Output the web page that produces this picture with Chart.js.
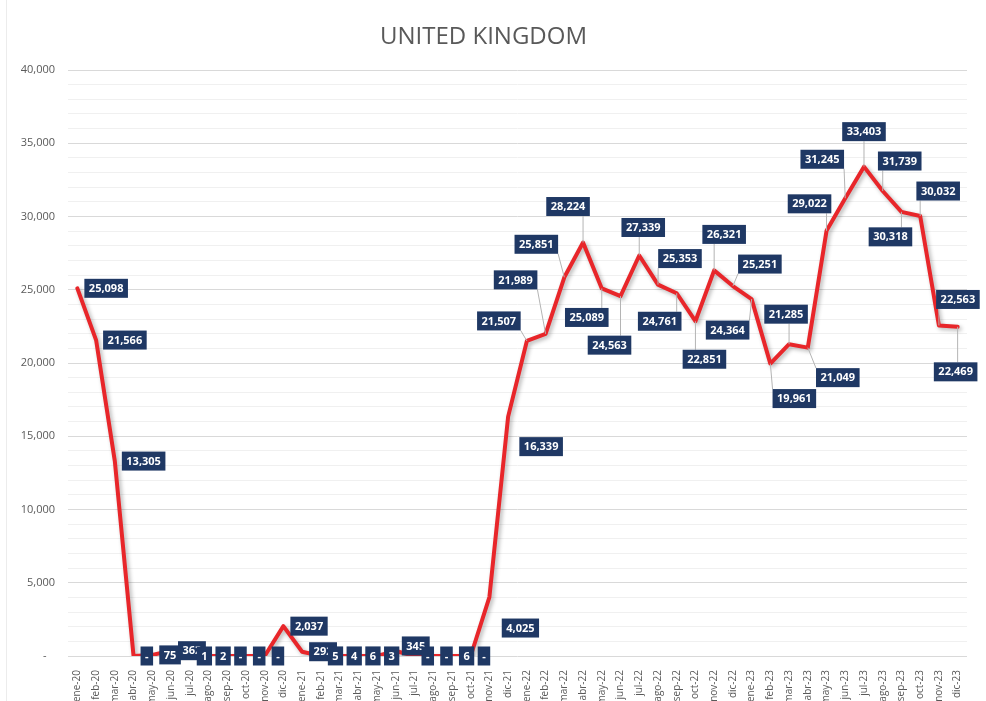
<!DOCTYPE html>
<html>
<head>
<meta charset="utf-8">
<script src="https://cdn.jsdelivr.net/npm/chart.js@4.4.0/dist/chart.umd.min.js"></script>
<style>
  html, body { margin: 0; padding: 0; background: #fff; }
  #wrap { position: relative; width: 986px; height: 701px; }
  #wrap:before { content: ""; position: absolute; left: 6px; top: 0; bottom: 0; border-left: 1px solid #ececec; }
</style>
</head>
<body>
<div id="wrap"><canvas id="grafico" width="986" height="701"></canvas></div>
<script>
// meses (eje x)
const meses = [
  "ene-20","feb-20","mar-20","abr-20","may-20","jun-20","jul-20","ago-20","sep-20","oct-20","nov-20","dic-20",
  "ene-21","feb-21","mar-21","abr-21","may-21","jun-21","jul-21","ago-21","sep-21","oct-21","nov-21","dic-21",
  "ene-22","feb-22","mar-22","abr-22","may-22","jun-22","jul-22","ago-22","sep-22","oct-22","nov-22","dic-22",
  "ene-23","feb-23","mar-23","abr-23","may-23","jun-23","jul-23","ago-23","sep-23","oct-23","nov-23","dic-23"
];

// valores mensuales
const llegadas = [
  25098, 21566, 13305, 0, 75, 362, 1, 2, 0, 0, 0, 2037,
  292, 5, 4, 6, 3, 345, 0, 0, 6, 0, 4025, 16339,
  21507, 21989, 25851, 28224, 25089, 24563, 27339, 25353, 24761, 22851, 26321, 25251,
  24364, 19961, 21285, 21049, 29022, 31245, 33403, 31739, 30318, 30032, 22563, 22469
];

// marcas principales del eje y
const ticksY = [0, 5000, 10000, 15000, 20000, 25000, 30000, 35000, 40000];

// desplazamiento de cada etiqueta respecto a su punto (null = a la derecha)
const desplazamientos = [
  null, null, null, null, null, null, null, null, null, null, null, null,
  null, null, null, null, null, [20, -5], null, null, null, null, [31, 31], [33, 30],
  [-28, -20], [-30, -54], [-28, -33], [-15, -36], [-15, 29], [-11, 49], [4, -28], [22, -26], [-17, 28], [9, 38], [10, -36], [27, -22],
  [-24, 31], [24, 35], [-3, -30], [30, 30], [-17, -27], [-23, -39], [0, -35], [17, -30], [-11, 25], [18, -25], [19, -26], [-2, 45]
];

Chart.defaults.font.family = "'Open Sans', sans-serif";

// sombra suave de la linea
const sombraLinea = {
  id: "sombraLinea",
  beforeDatasetDraw(chart) {
    const c = chart.ctx;
    c.save();
    c.shadowColor = "rgba(0,0,0,0.3)";
    c.shadowBlur = 4;
    c.shadowOffsetX = 2;
    c.shadowOffsetY = 2;
  },
  afterDatasetDraw(chart) {
    chart.ctx.restore();
  }
};

// etiquetas de datos tipo Excel
const etiquetas = {
  id: "etiquetas",
  afterDatasetsDraw(chart) {
    const c = chart.ctx;
    const meta = chart.getDatasetMeta(0);
    const cajas = [];
    c.save();
    c.font = "bold 11px 'Open Sans'";
    meta.data.forEach((p, i) => {
      const v = llegadas[i];
      const txt = v === 0 ? "-" : v.toLocaleString("en-US");
      const w = c.measureText(txt).width + 9;
      const h = 19;
      const d = desplazamientos[i];
      let izq, cy;
      if (d) { izq = p.x + d[0] - w / 2; cy = p.y + d[1]; }
      else { izq = p.x + 7; cy = p.y; }
      cajas.push({ txt, izq, top: cy - h / 2, w, h, px: p.x, py: p.y, guia: i >= 24 });
    });
    // lineas guia
    c.strokeStyle = "#b4b4b4";
    c.lineWidth = 1;
    cajas.forEach((b) => {
      if (!b.guia) return;
      const gx = Math.min(Math.max(b.px, b.izq), b.izq + b.w);
      const gy = Math.min(Math.max(b.py, b.top), b.top + b.h);
      if (Math.hypot(gx - b.px, gy - b.py) < 6) return;
      c.beginPath();
      c.moveTo(b.px, b.py);
      c.lineTo(gx, gy);
      c.stroke();
    });
    // cajas
    c.textAlign = "center";
    c.textBaseline = "middle";
    cajas.forEach((b) => {
      c.fillStyle = "#1f3864";
      c.fillRect(b.izq, b.top, b.w, b.h);
      c.fillStyle = "#ffffff";
      c.fillText(b.txt, b.izq + b.w / 2, b.top + b.h / 2 + 0.5);
    });
    c.restore();
  }
};

new Chart(document.getElementById("grafico"), {
  type: "line",
  data: {
    labels: meses,
    datasets: [{
      data: llegadas,
      borderColor: "#e8262a",
      borderWidth: 4,
      pointRadius: 0,
      tension: 0,
      borderJoinStyle: "round",
      borderCapStyle: "round",
      fill: false
    }]
  },
  options: {
    responsive: false,
    animation: false,
    layout: { padding: { left: 0, right: 19, top: 0, bottom: 0 } },
    plugins: {
      legend: { display: false },
      tooltip: { enabled: false },
      title: {
        display: true,
        text: "UNITED KINGDOM",
        color: "#595959",
        font: { size: 24, weight: "normal" },
        padding: { top: 23, bottom: 18.2 }
      }
    },
    scales: {
      x: {
        offset: true,
        grid: { display: false },
        border: { display: false },
        ticks: {
          autoSkip: false,
          maxRotation: 90,
          minRotation: 90,
          color: "#595959",
          font: { size: 10 },
          padding: 6
        },
        afterFit: (s) => { s.height = 45; }
      },
      y: {
        min: 0,
        max: 40000,
        border: { display: false },
        grid: {
          drawTicks: false,
          color: (ctx) => ticksY.includes(ctx.tick.value) ? "#d9d9d9" : "#f0f0f0"
        },
        ticks: {
          stepSize: 1000,
          autoSkip: false,
          color: "#595959",
          font: { size: 11 },
          padding: 13,
          callback: (v) => {
            if (v === 0) return "-   ";
            return ticksY.includes(v) ? v.toLocaleString("en-US") : "";
          }
        },
        afterFit: (s) => { s.width = 68; }
      }
    }
  },
  plugins: [sombraLinea, etiquetas]
});
</script>
</body>
</html>
